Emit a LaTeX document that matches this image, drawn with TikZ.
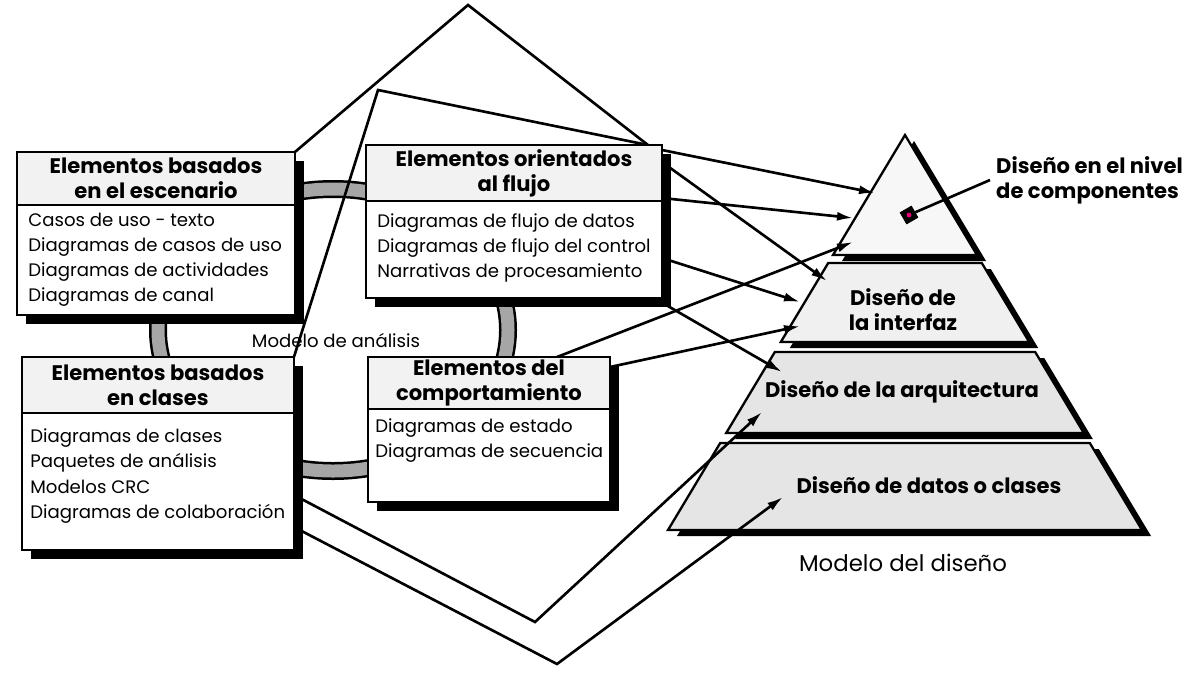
\documentclass[tikz,border=0pt]{standalone}
\usepackage{fontspec}
\setmainfont{Poppins}
\usetikzlibrary{calc,arrows.meta,backgrounds,positioning,shadows}
\newcommand{\apx}{905}
\newcommand{\apy}{135}
\newcommand{\slope}{0.6}
\newcommand{\boxhdfont}{\bfseries\fontsize{12}{14.2}\selectfont}
\newcommand{\boxtxfont}{\fontsize{10.3}{14.2}\selectfont}
\def\tiers{
  135/255/3,
  263/342/6,
  352/433/10,
  443/530/10
}
\definecolor{ringgray}{RGB}{166,166,166}
\definecolor{dotpink}{RGB}{230,0,120}
\tikzset{
  boxhead/.style = {draw=black, line width=1.5pt, fill=black!5, anchor=north west,
                    inner sep=0pt, outer sep=0pt, align=center, font=\boxhdfont,
                    drop shadow={shadow xshift=0.18cm, shadow yshift=-0.18cm, fill=black, opacity=1}},
  boxbody/.style = {draw=black, line width=1.5pt, fill=white, inner sep=0pt, outer sep=0pt,
                    drop shadow={shadow xshift=0.18cm, shadow yshift=-0.18cm, fill=black, opacity=1}},
  entry/.style   = {anchor=base west, inner sep=0pt, font=\boxtxfont},
  tierlabel/.style = {font=\boxhdfont, align=center},
  tier/.style    = {draw=black, line width=1.3pt},
  wire/.style    = {line width=1.5pt},
  flow/.style    = {wire, -{Latex[length=3.2mm,width=1.8mm]}}
}
\begin{document}
\begin{tikzpicture}[x={(0.02cm,0cm)}, y={(0cm,-0.02cm)}]
  \useasboundingbox (0,0) rectangle (1199,674);

  % Elementos basados en el escenario
  \node[boxhead, minimum width=5.56cm, minimum height=1.06cm] (esc-h) at (17,152) {Elementos basados\\en el escenario};
  \node[boxbody, minimum width=5.56cm, minimum height=2.2cm, below=0pt of esc-h] (esc-b) {};
  \foreach \t [count=\i] in {Casos de uso - texto, Diagramas de casos de uso, Diagramas de actividades, Diagramas de canal}{
    \node[entry] (esc-\i) at ($(esc-b.north west)+(11,21+25*\i-25)$) {\t};
  }

  % Elementos orientados al flujo
  \node[boxhead, minimum width=5.92cm, minimum height=1.12cm] (flu-h) at (366,145) {Elementos orientados\\al flujo};
  \node[boxbody, minimum width=5.92cm, minimum height=1.94cm, below=0pt of flu-h] (flu-b) {};
  \foreach \t [count=\i] in {Diagramas de flujo de datos, Diagramas de flujo del control, Narrativas de procesamiento}{
    \node[entry] (flu-\i) at ($(flu-b.north west)+(11,26+25*\i-25)$) {\t};
  }

  % Elementos basados en clases
  \node[boxhead, minimum width=5.44cm, minimum height=1.12cm] (cla-h) at (22,357) {Elementos basados\\en clases};
  \node[boxbody, minimum width=5.44cm, minimum height=2.74cm, below=0pt of cla-h] (cla-b) {};
  \foreach \t [count=\i] in {Diagramas de clases, Paquetes de análisis, Modelos CRC, Diagramas de colaboración}{
    \node[entry] (cla-\i) at ($(cla-b.north west)+(8,29+25.5*\i-25.5)$) {\t};
  }

  % Elementos del comportamiento
  \node[boxhead, minimum width=4.84cm, minimum height=1.04cm] (com-h) at (368,357) {Elementos del\\comportamiento};
  \node[boxbody, minimum width=4.84cm, minimum height=1.86cm, below=0pt of com-h] (com-b) {};
  \foreach \t [count=\i] in {Diagramas de estado, Diagramas de secuencia}{
    \node[entry] (com-\i) at ($(com-b.north west)+(7,23+25*\i-25)$) {\t};
  }

  \node[font=\fontsize{10.3}{12}\selectfont] (m-ana) at (336,340) {Modelo de análisis};

  % Pyramid labels
  \node[tierlabel, anchor=west, align=left] (t-com) at (990,180) {Diseño en el nivel\\de componentes};
  \node[tierlabel] (t-int) at (903,310) {Diseño de\\la interfaz};
  \node[tierlabel] (t-arq) at (902,392) {Diseño de la arquitectura};
  \node[tierlabel] (t-dat) at (929,485) {Diseño de datos o clases};
  \node[font=\fontsize{13}{16}\selectfont] (m-dis) at (903,563) {Modelo del diseño};
  \node[draw, fill=black, minimum size=0.26cm, inner sep=0pt, rotate=30] (mark) at (909,215) {};
  \fill[dotpink] (mark.center) circle[radius=1.4pt];

  % connection points
  \coordinate (apex) at (468,5);
  \coordinate (peak) at (378,90);
  \coordinate (meet) at ($(flu-h.north east)+(-14,0)$);
  \coordinate (v1) at (535,622);
  \coordinate (v2) at (557,664);
  \coordinate (t1a) at (875,193);
  \coordinate (t1b) at (853,218);
  \coordinate (t1c) at (853,242);
  \coordinate (t2a) at (827,281);
  \coordinate (t2b) at (800,302);
  \coordinate (t2c) at (800,326);
  \coordinate (t3a) at (782,372);
  \coordinate (t3b) at (762,412);
  \coordinate (t4a) at (783,497);

  \begin{pgfonlayer}{background}
    \fill[white] (0,0) rectangle (1199,674);
    % analysis ring
    \draw[line width=0.36cm, black] (333,330) ellipse [x radius=175, y radius=141];
    \draw[line width=0.26cm, ringgray] (333,330) ellipse [x radius=175, y radius=141];

    % Pyramid tiers with shadow
    \foreach \ya/\yb/\tone in \tiers {
      \pgfmathsetmacro{\xa}{\slope*(\ya-\apy)}
      \pgfmathsetmacro{\xb}{\slope*(\yb-\apy)}
      \fill[black] (\apx-\xa+9,\ya+6) -- (\apx+\xa+9,\ya+6) -- (\apx+\xb+9,\yb+6) -- (\apx-\xb+9,\yb+6) -- cycle;
      \draw[tier, fill=black!\tone] (\apx-\xa,\ya) -- (\apx+\xa,\ya) -- (\apx+\xb,\yb) -- (\apx-\xb,\yb) -- cycle;
    }

    % model outlines
    \draw[wire] (esc-h.north east) -- (apex) -- (meet);
    \draw[wire] (cla-h.north east) -- (peak) -- (meet);
    \draw[flow] ($(cla-b.north east)+(0,82)$) -- (v1) -- (t3b);
    \draw[flow] ($(cla-b.north east)+(0,114)$) -- (v2) -- (t4a);

    % arrows into the design model
    \draw[flow] ($(flu-h.north east)+(0,5)$) -- (t1a);
    \draw[flow] ($(flu-h.north east)+(0,17)$) -- (t2a);
    \draw[flow] ($(flu-b.north east)+(0,-3)$) -- (t1b);
    \draw[flow] ($(flu-b.north east)+(0,57)$) -- (t2b);
    \draw[flow] ($(flu-b.south east)+(-8,0)$) -- (t3a);
    \draw[flow] ($(com-h.north east)+(-53,0)$) -- (t1c);
    \draw[flow] ($(com-h.north east)+(0,10)$) -- (t2c);
    \draw[wire] (mark) -- (t-com.west);
  \end{pgfonlayer}
\end{tikzpicture}
\end{document}
